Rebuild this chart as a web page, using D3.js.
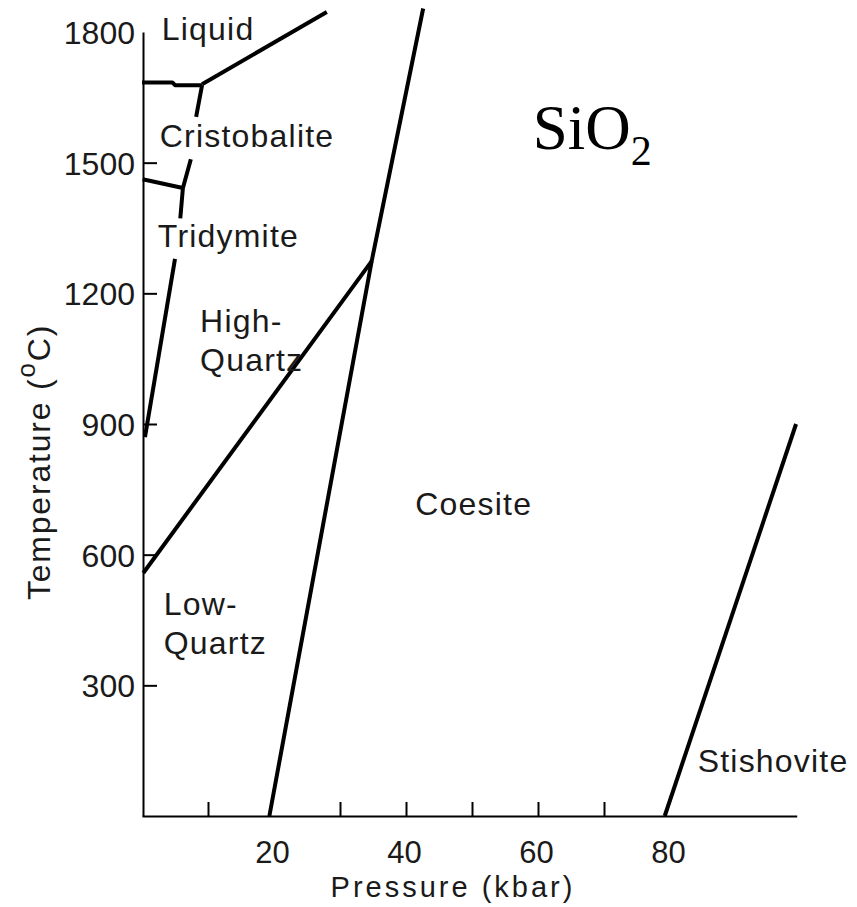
<!DOCTYPE html>
<html>
<head>
<meta charset="utf-8">
<script src="https://cdn.jsdelivr.net/npm/d3@7/dist/d3.min.js"></script>
<style>
  html, body { margin: 0; padding: 0; background: #fff; }
  svg { display: block; }
  .lbl { font-family: "Liberation Sans", Arial, sans-serif; font-size: 32px; fill: #1a1a1a; letter-spacing: 1.2px; }
  .tick text { font-family: "Liberation Sans", Arial, sans-serif; font-size: 32px; fill: #1a1a1a; }
</style>
</head>
<body>
<svg id="chart" width="857" height="907"></svg>
<script>
// ---------- data ----------
const pressureTickValues = [10, 30, 40, 50, 60, 70];
const pressureLabelValues = [20, 40, 60, 80];
const temperatureTickValues = [300, 600, 900, 1200, 1500];
const temperatureLabelValues = [300, 600, 900, 1200, 1500, 1800];

// phase boundaries: [pressure kbar, temperature °C]
const cristobaliteLiquid = [[0, 1684], [4.6, 1684], [5.0, 1678], [9.1, 1678]];
const liquidus = [[9.1, 1680], [28.0, 1846]];
const cristobaliteUpper = [[9.1, 1678], [8.2, 1605]];
const cristobaliteLower = [[7.4, 1508], [6.2, 1442], [5.8, 1372]];
const tridymiteCristobalite = [[0.1, 1462], [6.2, 1442]];
const tridymiteQuartz = [[5.0, 1279], [0.45, 870]];
const highLowQuartz = [[0.2, 558], [34.8, 1274]];
const quartzCoesite = [[19.3, 0], [34.8, 1274], [42.6, 1854]];
const coesiteStishovite = [[79.2, 0], [99.1, 900]];

const boundaries = [cristobaliteLiquid, liquidus, cristobaliteUpper, cristobaliteLower,
  tridymiteCristobalite, tridymiteQuartz, highLowQuartz, quartzCoesite, coesiteStishovite];

const phaseNames = ["Liquid", "Cristobalite", "Tridymite", "High-", "Quartz", "Low-", "Quartz", "Coesite", "Stishovite"];
const phaseAnchors = [[3.0, 1782], [2.7, 1536], [2.4, 1306], [8.8, 1111], [8.8, 1022],
  [3.3, 461], [3.3, 372], [41.4, 691], [84.2, 101]];

const xTitle = "Pressure (kbar)";
const yTitle = "Temperature (";
const formula = "SiO";

// ---------- layout ----------
const svg = d3.select("#chart");
const x = d3.scaleLinear().domain([0, 100]).range([142, 802]);
const y = d3.scaleLinear().domain([0, 1800]).range([816, 32]);
const xAxisScale = x.copy().domain([0, 99.2]).range([x(0), x(99.2)]);

// x axis line + ticks
const gx = svg.append("g").attr("transform", `translate(0,${y(0)})`)
  .call(d3.axisBottom(xAxisScale).tickValues(pressureTickValues).tickSize(-14).tickSizeOuter(0).tickFormat(""));
gx.select(".domain").attr("stroke", "#000").attr("stroke-width", 2);
gx.selectAll(".tick line").attr("stroke", "#000").attr("stroke-width", 2);

// x labels
const gxl = svg.append("g").attr("transform", `translate(0,${y(0)})`)
  .call(d3.axisBottom(x).tickValues(pressureLabelValues).tickSize(0).tickFormat(d3.format("d")));
gxl.select(".domain").remove();
gxl.selectAll(".tick text").attr("y", 47).attr("dy", 0).attr("dx", -2).style("font-size", "31px");

// y axis line + ticks
const gy = svg.append("g").attr("transform", `translate(${x(0) + 1},0)`)
  .call(d3.axisLeft(y).tickValues(temperatureTickValues).tickSize(-14).tickSizeOuter(0).tickFormat(""));
gy.select(".domain").attr("stroke", "#000").attr("stroke-width", 2);
gy.selectAll(".tick line").attr("stroke", "#000").attr("stroke-width", 2);

// y labels
const gyl = svg.append("g").attr("transform", `translate(${x(0) + 1},0)`)
  .call(d3.axisLeft(y).tickValues(temperatureLabelValues).tickSize(0).tickPadding(8).tickFormat(d3.format("d")));
gyl.select(".domain").remove();
gyl.selectAll(".tick text").attr("dy", "0.36em");

// boundaries
const line = d3.line().x(d => x(d[0])).y(d => y(d[1]));
svg.append("g").selectAll("path").data(boundaries).join("path")
  .attr("d", line).attr("fill", "none").attr("stroke", "#000")
  .attr("stroke-width", 4).attr("stroke-linejoin", "round");

// phase labels
svg.append("g").selectAll("text").data(phaseNames).join("text")
  .attr("class", "lbl")
  .attr("x", (d, i) => x(phaseAnchors[i][0]))
  .attr("y", (d, i) => y(phaseAnchors[i][1]))
  .text(d => d);

// axis titles
svg.append("text").attr("class", "lbl")
  .attr("x", 453).attr("y", 897).attr("text-anchor", "middle")
  .style("font-size", "29px")
  .style("letter-spacing", "3px")
  .text(xTitle);

const yt = svg.append("text").attr("class", "lbl")
  .attr("transform", "translate(50,462) rotate(-90)")
  .attr("text-anchor", "middle")
  .style("letter-spacing", "1.8px");
yt.append("tspan").text(yTitle);
yt.append("tspan").attr("dy", -15).style("font-size", "26px").text("o");
yt.append("tspan").attr("dy", 15).text("C)");

// formula
const f = svg.append("text")
  .attr("x", x(59.2)).attr("y", y(1531))
  .style("font-family", "'Liberation Serif', 'Times New Roman', serif")
  .style("font-size", "63px").style("fill", "#000");
f.append("tspan").text(formula);
f.append("tspan").attr("dy", 16).style("font-size", "42px").text("2");
</script>
</body>
</html>
